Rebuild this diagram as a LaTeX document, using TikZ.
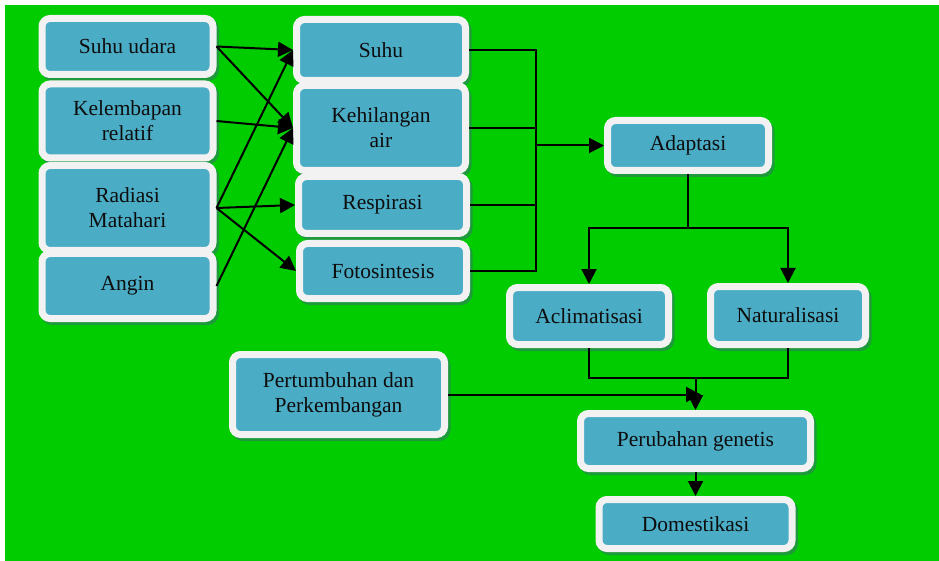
\documentclass[tikz,border=0pt]{standalone}
\usepackage{fontspec}
\setmainfont{Liberation Serif}
\usetikzlibrary{arrows.meta}
\definecolor{bggreen}{HTML}{00CC00}
\definecolor{boxblue}{HTML}{4BACC6}
\definecolor{boxrim}{HTML}{F2F2F2}
\definecolor{boxshade}{HTML}{1E9A3C}
\definecolor{ink}{HTML}{0D0D0D}

\begin{document}
\begin{tikzpicture}[
  x=1pt,y=-1pt,
  box/.style={rectangle,rounded corners=8pt,draw=boxrim,fill=boxblue,line width=7pt,
              inner sep=0pt,align=center,text=ink,font=\fontsize{21.5}{25}\selectfont,
              preaction={draw=boxshade,fill=boxshade,line width=7pt,
                         transform canvas={shift={(2.5pt,-3pt)}}}},
  arr/.style={-{Triangle[length=15pt,width=15pt]},line width=2pt,black},
  link/.style={line width=2pt,black},
]
\useasboundingbox (0,0) rectangle (939,561);
\fill[white] (0,0) rectangle (939,561);
\fill[bggreen] (5,5) rectangle (939,561);

%% ─── Faktor lingkungan ───────────────────────────────────────────────────────
\node[box,minimum width=171pt,minimum height=56pt] (udara)  at (127.5,46.5) {Suhu udara};
\node[box,minimum width=171pt,minimum height=74pt] (lembap) at (127.5,121)  {Kelembapan\\relatif};
\node[box,minimum width=171pt,minimum height=85pt] (radiasi) at (127.5,208) {Radiasi\\Matahari};
\node[box,minimum width=171pt,minimum height=65pt] (angin)  at (127.5,286)  {Angin};

%% ─── Respon tanaman ──────────────────────────────────────────────────────────
\node[box,minimum width=169pt,minimum height=61pt] (suhu)   at (381,50)    {Suhu};
\node[box,minimum width=169pt,minimum height=85pt] (hilang) at (381,128)   {Kehilangan\\air};
\node[box,minimum width=168pt,minimum height=57pt] (respi)  at (382.5,205) {Respirasi};
\node[box,minimum width=167pt,minimum height=55pt] (foto)   at (383,271)   {Fotosintesis};

\draw[arr] (udara.east)   -- (suhu.west);
\draw[arr] (udara.east)   -- (hilang.west);
\draw[arr] (lembap.east)  -- (hilang.west);
\draw[arr] (radiasi.east) -- (suhu.west);
\draw[arr] (radiasi.east) -- (respi.west);
\draw[arr] (radiasi.east) -- (foto.west);
\draw[arr] (angin.east)   -- (hilang.west);

%% ─── Adaptasi ────────────────────────────────────────────────────────────────
\node[box,minimum width=161pt,minimum height=50pt] (adapt) at (688,145.5) {Adaptasi};
\node[box,minimum width=159pt,minimum height=57pt] (aklim) at (589,316)   {Aclimatisasi};
\node[box,minimum width=155pt,minimum height=58pt] (natur) at (788,315.5) {Naturalisasi};

\coordinate (jn)    at (536,145.5);
\coordinate (split) at (688,228);
\draw[link] (suhu.east)   -| (jn);
\draw[link] (hilang.east) -| (jn);
\draw[link] (respi.east)  -| (jn);
\draw[link] (foto.east)   -| (jn);
\draw[arr]  (jn) -- (adapt.west);
\draw[link] (adapt.south) -- (split);
\draw[arr]  (split) -| (aklim.north);
\draw[arr]  (split) -| (natur.north);

%% ─── Domestikasi ─────────────────────────────────────────────────────────────
\node[box,minimum width=212pt,minimum height=80pt] (tumbuh)  at (338.5,394.5) {Pertumbuhan dan\\Perkembangan};
\node[box,minimum width=230pt,minimum height=55pt] (genetis) at (695.5,441)   {Perubahan genetis};
\node[box,minimum width=193pt,minimum height=49pt] (domes)   at (695.5,524)   {Domestikasi};

\coordinate (merge) at (695.5,378);
\coordinate (meet)  at (701,394.5);
\draw[link] (aklim.south) |- (merge);
\draw[link] (natur.south) |- (merge);
\draw[arr]  (merge) -- (genetis.north);
\draw[arr]  (tumbuh.east) -- (meet);
\draw[arr]  (genetis.south) -- (domes.north);

\end{tikzpicture}
\end{document}
